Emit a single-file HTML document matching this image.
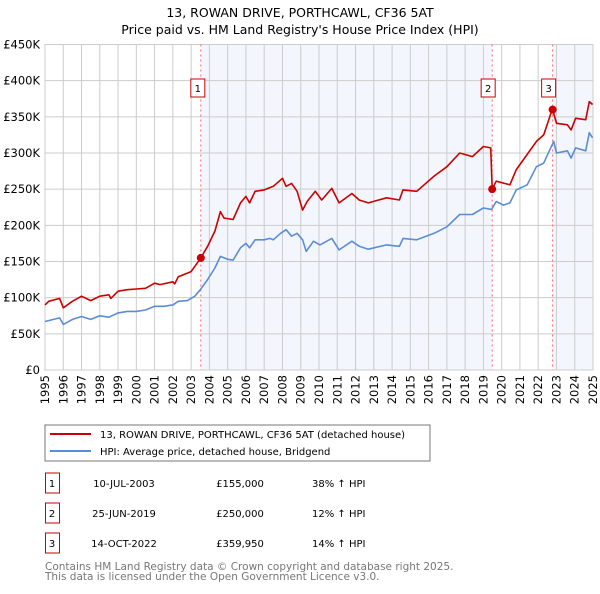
<!DOCTYPE html>
<html><head><meta charset="utf-8"><style>
body{margin:0;background:#fff;font-family:"DejaVu Sans","Liberation Sans",sans-serif;}
svg text{font-family:"DejaVu Sans","Liberation Sans",sans-serif;}
</style></head><body>
<svg id="chart" width="600" height="590" viewBox="0 0 600 590" xmlns="http://www.w3.org/2000/svg">
<text x="300" y="17" text-anchor="middle" font-size="12.5" fill="#000">13, ROWAN DRIVE, PORTHCAWL, CF36 5AT</text>
<text x="300" y="34" text-anchor="middle" font-size="12.5" fill="#000">Price paid vs. HM Land Registry's House Price Index (HPI)</text>
<g id="plot"></g>
<rect x="45" y="425" width="385" height="36" fill="#fff" stroke="#777"/>
<line x1="50" y1="434" x2="91" y2="434" stroke="#cc0000" stroke-width="2"/>
<text x="100" y="438" font-size="10">13, ROWAN DRIVE, PORTHCAWL, CF36 5AT (detached house)</text>
<line x1="50" y1="451" x2="91" y2="451" stroke="#5b8dd6" stroke-width="2"/>
<text x="100" y="455" font-size="10">HPI: Average price, detached house, Bridgend</text>
<g id="table" font-size="10"></g>
<text x="45" y="570" font-size="10.5" fill="#777">Contains HM Land Registry data © Crown copyright and database right 2025.</text>
<text x="45" y="580" font-size="10.5" fill="#777">This data is licensed under the Open Government Licence v3.0.</text>
</svg>
<script>
const hpiYears=[1995,1995.8,1996,1996.5,1997,1997.5,1998,1998.5,1999,1999.5,2000,2000.5,2001,2001.5,2002,2002.3,2002.8,2003.2,2003.5,2003.9,2004.3,2004.6,2005,2005.3,2005.7,2006,2006.2,2006.5,2007,2007.3,2007.5,2007.9,2008.2,2008.5,2008.8,2009.1,2009.3,2009.7,2010.05,2010.7,2011.1,2011.8,2012.2,2012.7,2013.7,2014.4,2014.6,2015.35,2016.3,2017,2017.7,2018.4,2019,2019.45,2019.7,2020.1,2020.45,2020.8,2021.4,2021.9,2022.3,2022.85,2023,2023.6,2023.8,2024.05,2024.6,2024.8,2024.97];
const hpiValues=[67,72,63,70,74,70,75,73,79,81,81,83,88,88,90,95,96,102,111,125,141,157,153,152,169,175,169,180,180,182,180,189,194,185,189,180,164,178,173,182,166,178,171,167,173,171,182,180,189,198,215,215,224,222,233,228,231,249,256,281,286,316,300,303,293,307,303,328,321];
const propYears=[1995,1995.2,1995.8,1996,1996.5,1997,1997.5,1998,1998.5,1998.6,1999,1999.5,2000,2000.5,2001,2001.3,2002,2002.1,2002.3,2003,2003.53,2003.9,2004.3,2004.6,2004.8,2005.3,2005.7,2006,2006.2,2006.5,2007,2007.5,2008,2008.2,2008.5,2008.8,2009.1,2009.35,2009.8,2010.15,2010.7,2011.1,2011.8,2012.2,2012.7,2013.7,2014.4,2014.6,2015.35,2016.3,2017,2017.7,2018.4,2019,2019.4,2019.48,2019.7,2020.45,2020.8,2021.4,2021.9,2022.3,2022.78,2023,2023.6,2023.8,2024.05,2024.6,2024.8,2024.97];
const propValues=[90,95,99,86,95,102,96,102,104,99,109,111,112,113,120,118,122,119,129,136,155,171,192,219,210,208,231,240,231,247,249,254,265,254,258,247,221,233,247,235,251,231,244,235,231,238,235,249,247,268,281,300,295,309,307,250,261,256,277,298,316,325,361,341,339,332,348,346,371,367];
const saleLabels=["1","2","3"];
const saleYears=[2003.53,2019.48,2022.79];
const saleValues=[155,250,359.95];
const saleDates=["10-JUL-2003","25-JUN-2019","14-OCT-2022"];
const salePrices=["£155,000","£250,000","£359,950"];
const saleHpi=["38% ↑ HPI","12% ↑ HPI","14% ↑ HPI"];
const yTicks=[0,50,100,150,200,250,300,350,400,450];
const yTickLabels=["£0","£50K","£100K","£150K","£200K","£250K","£300K","£350K","£400K","£450K"];
const xTicks=[1995,1996,1997,1998,1999,2000,2001,2002,2003,2004,2005,2006,2007,2008,2009,2010,2011,2012,2013,2014,2015,2016,2017,2018,2019,2020,2021,2022,2023,2024,2025];

const NS="http://www.w3.org/2000/svg";
const X0=45,X1=593,Y0=370,Y1=44.5;
const xs=y=>X0+(y-1995)/30*(X1-X0);
const ys=v=>Y0-v/450*(Y0-Y1);
const plot=document.getElementById('plot');
function mk(tag,attrs,parent){const e=document.createElementNS(NS,tag);for(const k in attrs)e.setAttribute(k,attrs[k]);(parent||plot).appendChild(e);return e;}
let sh=mk('rect',{x:xs(saleYears[0]),y:Y1,width:xs(saleYears[1])-xs(saleYears[0]),height:Y0-Y1,fill:'#f3f6fd'});


sh=mk('rect',{x:xs(saleYears[2]),y:Y1,width:X1-xs(saleYears[2]),height:Y0-Y1,fill:'#f3f6fd'});


yTicks.forEach((t,i)=>{
 const l=mk('line',{x1:X0,x2:X1,y1:ys(t),y2:ys(t),stroke:'#cccccc','stroke-width':1});
 
 
 const tx=mk('text',{x:40,y:ys(t)+4,'text-anchor':'end','font-size':'11.5'});
 tx.textContent=yTickLabels[i];
 
 
});
xTicks.forEach(t=>{
 const l=mk('line',{x1:xs(t),x2:xs(t),y1:Y1,y2:Y0,stroke:'#cccccc','stroke-width':1});
 
 
 const tx=mk('text',{x:0,y:0,'text-anchor':'end','font-size':'11.5',transform:`translate(${xs(t)+4},375) rotate(-90)`});
 tx.textContent=t;
 
 
});
const border=mk('rect',{x:X0,y:Y1,width:X1-X0,height:Y0-Y1,fill:'none',stroke:'#cccccc'});


saleYears.forEach((y,i)=>{
 const l=mk('line',{x1:xs(y),x2:xs(y),y1:Y1,y2:Y0,stroke:'#ff6666','stroke-dasharray':'2,3','stroke-width':1});
 
 
});
function path(xa,va,color,name){
 const d=xa.map((x,i)=>(i?'L':'M')+xs(x).toFixed(1)+','+ys(va[i]).toFixed(1)).join('');
 const p=mk('path',{d:d,fill:'none',stroke:color,'stroke-width':1.6,'stroke-linejoin':'round'});
 
 
}
path(hpiYears,hpiValues,'#5b8dd6','hpi-line');
path(propYears,propValues,'#cc0000','property-price-line');
saleYears.forEach((y,i)=>{
 const c=mk('circle',{cx:xs(y),cy:ys(saleValues[i]),r:4,fill:'#cc0000'});
 
 
 const bx=xs(y)-(i==0?3:4);
 const r=mk('rect',{x:bx-7,y:79,width:14,height:18,fill:'#fff',stroke:'#cc0000'});
 
 
 const t=mk('text',{x:bx,y:92,'text-anchor':'middle','font-size':'10'});
 t.textContent=saleLabels[i];
 
 
});
const tb=document.getElementById('table');
saleLabels.forEach((s,i)=>{
 const cy=483+30*i;
 const r=mk('rect',{x:45.5,y:cy-10,width:14,height:20,fill:'#fff',stroke:'#cc0000'},tb);
 
 
 const cells=[[52,s,'middle'],[124,saleDates[i],'middle'],[240,salePrices[i],'middle'],[312,saleHpi[i],'start']];
 const names=['table-index','table-date','table-price','table-hpi-change'];
 cells.forEach((c,j)=>{
  const t=mk('text',{x:c[0],y:cy+4,'text-anchor':c[2],'font-size':'10'},tb);
  t.textContent=c[1];
  
  
 });
});
</script>
</body></html>
